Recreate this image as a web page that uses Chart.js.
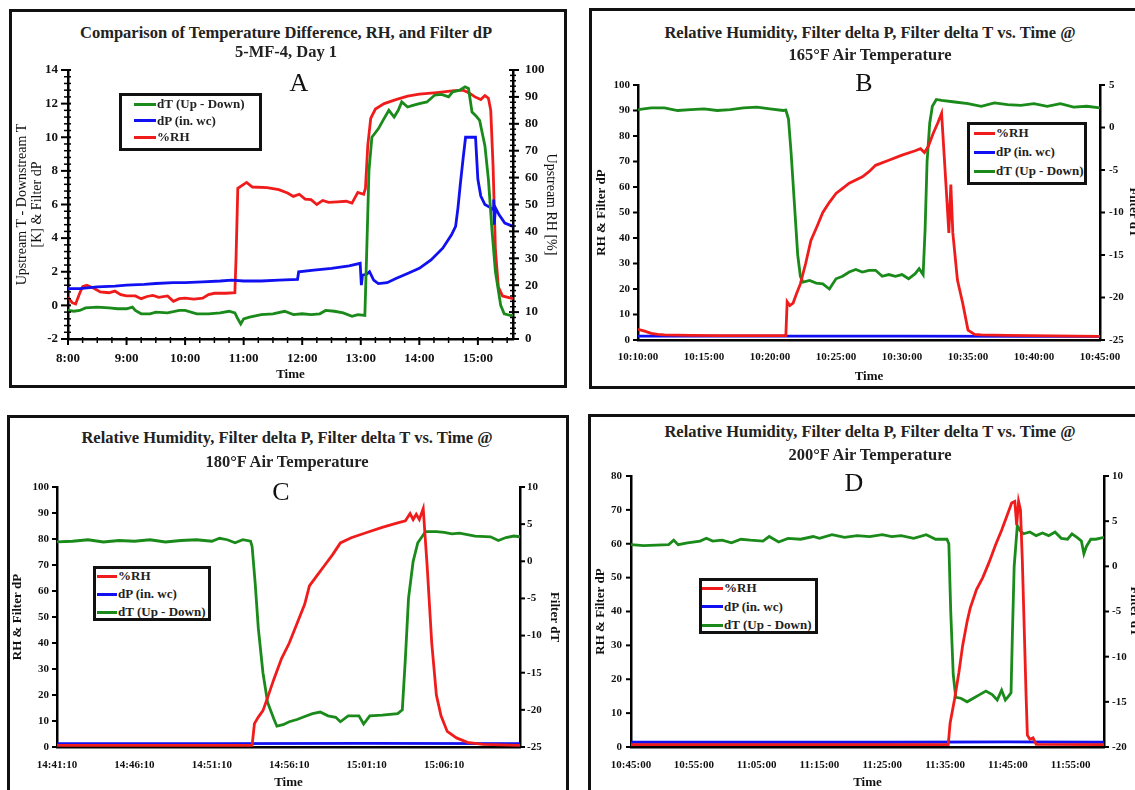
<!DOCTYPE html>
<html>
<head>
<meta charset="utf-8">
<title>RH, filter dP and dT comparison</title>
<script src="https://cdn.jsdelivr.net/npm/chart.js@4.4.1/dist/chart.umd.min.js"></script>
<style>
  html, body { margin: 0; padding: 0; background: #fff; }
  body { width: 1135px; height: 790px; overflow: hidden; position: relative;
         font-family: "Liberation Serif", "Times New Roman", serif; }
  .box { position: absolute; border: 3px solid #111; box-sizing: border-box; }
  .ttl { position: absolute; transform: translate(-50%, -50%); white-space: nowrap;
         font-weight: bold; font-size: 16.5px; line-height: 1; color: #222; }
  .letter { position: absolute; transform: translate(-50%, -50%); font-size: 26px; line-height: 1; color: #111; }
  canvas { position: absolute; }
  .legend { position: absolute; border: 3px solid #111; box-sizing: border-box; background: #fff; }
  .legend .row { position: absolute; height: 16px; display: flex; align-items: center;
                 font-weight: bold; font-size: 13px; color: #222; white-space: nowrap; }
  .legend .swatch { display: inline-block; height: 3px; margin-right: 1px; }
</style>
</head>
<body>
<div class="box" style="left:9px;top:9px;width:558px;height:379px"></div>
<div class="box" style="left:589px;top:8px;width:560px;height:381px"></div>
<div class="box" style="left:7px;top:415px;width:562px;height:400px"></div>
<div class="box" style="left:588px;top:414px;width:560px;height:400px"></div>

<script>
// ---- Panel A: 5-MF-4, Day 1 (time in hours) ----
const aDtTime = [8.00, 8.10, 8.20, 8.30, 8.50, 8.70, 8.85, 9.00, 9.10, 9.15,
  9.25, 9.40, 9.50, 9.70, 9.90, 10.00, 10.20, 10.40, 10.60, 10.75,
  10.85, 10.90, 10.95, 11.00, 11.10, 11.30, 11.50, 11.70, 11.85, 12.00,
  12.15, 12.30, 12.40, 12.55, 12.70, 12.85, 12.95, 13.07, 13.10, 13.14,
  13.19, 13.30, 13.38, 13.48, 13.57, 13.64, 13.70, 13.80, 13.89, 14.00,
  14.13, 14.26, 14.38, 14.50, 14.57, 14.69, 14.78, 14.84, 14.90, 14.96,
  15.03, 15.12, 15.18, 15.24, 15.30, 15.39, 15.45, 15.55, 15.60];
const aDtVals = [-0.3, -0.35, -0.3, -0.15, -0.1, -0.15, -0.2, -0.2, -0.1, -0.3,
  -0.5, -0.5, -0.4, -0.45, -0.3, -0.3, -0.5, -0.5, -0.45, -0.35,
  -0.45, -0.8, -1.1, -0.8, -0.7, -0.55, -0.5, -0.35, -0.55, -0.5,
  -0.55, -0.5, -0.3, -0.35, -0.45, -0.65, -0.55, -0.6, 3.0, 8.0,
  10.0, 10.5, 11.0, 11.6, 11.2, 11.6, 12.1, 11.8, 11.9, 12.0,
  12.1, 12.5, 12.55, 12.4, 12.7, 12.8, 13.0, 12.9, 11.5, 11.3,
  11.0, 9.5, 7.5, 4.5, 2.0, 0.0, -0.5, -0.6, -0.6];

const aDpTime = [8.00, 8.20, 8.50, 8.80, 9.00, 9.30, 9.50, 9.80, 10.00, 10.30,
  10.60, 10.80, 11.00, 11.30, 11.60, 11.92, 11.94, 12.20, 12.50, 12.80,
  12.99, 13.01, 13.03, 13.10, 13.15, 13.22, 13.30, 13.45, 13.60, 13.80,
  14.00, 14.20, 14.40, 14.55, 14.62, 14.66, 14.70, 14.75, 14.79, 14.96,
  15.00, 15.05, 15.12, 15.22, 15.26, 15.27, 15.28, 15.30, 15.36, 15.46, 15.60];
const aDpVals = [1.0, 1.0, 1.1, 1.15, 1.2, 1.25, 1.3, 1.35, 1.35, 1.4,
  1.45, 1.5, 1.45, 1.45, 1.5, 1.55, 2.0, 2.1, 2.2, 2.35,
  2.5, 1.2, 1.8, 1.85, 2.0, 1.5, 1.3, 1.35, 1.6, 1.9,
  2.2, 2.7, 3.4, 4.2, 4.7, 5.8, 7.2, 8.8, 10.0, 10.0,
  7.5, 6.5, 6.0, 5.8, 5.7, 6.3, 4.8, 5.8, 5.4, 4.9, 4.7];

const aRhTime = [8.00, 8.07, 8.13, 8.20, 8.25, 8.32, 8.45, 8.55, 8.70, 8.80,
  8.90, 9.00, 9.15, 9.25, 9.35, 9.45, 9.55, 9.70, 9.80, 9.90,
  10.00, 10.15, 10.30, 10.40, 10.50, 10.70, 10.85, 10.87, 10.90, 11.00,
  11.05, 11.15, 11.40, 11.60, 11.75, 11.85, 11.95, 12.05, 12.15, 12.25,
  12.35, 12.45, 12.60, 12.75, 12.85, 12.95, 13.05, 13.08, 13.12, 13.17,
  13.25, 13.40, 13.60, 13.80, 14.00, 14.30, 14.60, 14.75, 14.85, 14.95,
  15.05, 15.12, 15.18, 15.22, 15.26, 15.30, 15.35, 15.42, 15.60];
const aRhVals = [15.5, 13.5, 13.0, 17.0, 19.5, 20.0, 18.8, 17.5, 17.2, 17.8,
  16.5, 16.0, 16.0, 15.0, 15.8, 16.2, 15.5, 16.0, 14.0, 15.0,
  15.2, 14.8, 15.2, 16.5, 17.0, 17.0, 17.2, 30.0, 56.0, 57.5,
  58.2, 56.5, 56.3, 55.5, 54.3, 53.0, 53.8, 52.0, 51.8, 50.0,
  51.5, 50.8, 51.0, 51.2, 50.5, 54.5, 53.8, 56.0, 72.0, 82.0,
  85.5, 87.5, 89.0, 90.3, 91.0, 91.6, 92.3, 92.5, 91.5, 90.0,
  89.0, 90.5, 89.5, 85.0, 64.0, 33.0, 19.3, 16.0, 15.0];

// ---- Panel B: 165 F (minutes after 10:10:00) ----
const bRhTime = [0, 0.5, 1, 1.5, 2, 4, 6, 8, 11.2, 11.3,
  11.5, 11.75, 12.0, 12.3, 12.7, 13.1, 13.6, 14.0, 14.5, 15.0,
  15.5, 16, 17, 17.5, 18, 19, 20, 21, 21.4, 21.7,
  22.0, 22.36, 22.7, 23.0, 23.4, 23.55, 23.7, 23.85, 24.2, 24.6,
  25.0, 25.5, 26, 28, 35];
const bRhVals = [4.2, 3.5, 2.6, 2.2, 2.0, 1.8, 1.7, 1.7, 1.7, 15,
  13.5, 14.5, 18, 22, 30, 39, 45, 50, 54, 57.5,
  59.5, 61.5, 64, 66, 68.5, 70.5, 72.5, 74.2, 75.0, 73.5,
  76, 81, 85, 88.9, 55, 42, 61, 42, 23.5, 14.4,
  3.9, 2.2, 2.0, 1.8, 1.4];
const bDpTime = [0, 10, 20, 30, 35];
const bDpVals = [1.5, 1.5, 1.5, 1.4, 1.4];
const bDtTime = [0, 1, 2, 3, 4, 5, 6, 7, 8, 9,
  10, 11, 11.2, 11.4, 11.6, 11.85, 12.1, 12.3, 12.5, 13,
  13.5, 14, 14.5, 15, 15.5, 16, 16.5, 17, 17.5, 18,
  18.5, 19, 19.5, 20, 20.5, 21, 21.3, 21.6, 21.75, 21.9,
  22.1, 22.3, 22.6, 23, 24, 25, 26, 27, 28, 29,
  30, 31, 32, 33, 34, 35];
const bDtVals = [2.1, 2.3, 2.3, 2.0, 2.1, 2.2, 2.0, 2.1, 2.3, 2.4,
  2.2, 2.0, 2.05, 1.0, -3, -9, -15, -17.5, -18.2, -18.0,
  -18.3, -18.4, -19.0, -17.8, -17.5, -17.0, -16.7, -17.0, -16.8, -16.8,
  -17.5, -17.3, -17.5, -17.3, -17.8, -17.2, -16.6, -17.3, -12, -4,
  0.5, 2.5, 3.3, 3.2, 3.0, 2.8, 2.5, 2.9, 2.7, 2.6,
  2.8, 2.5, 2.8, 2.4, 2.5, 2.3];

// ---- Panel C: 180 F (minutes after 14:41:10) ----
const cRhTime = [0, 12.6, 12.75, 13.0, 13.3, 13.6, 14.0, 14.5, 15.0, 15.5,
  16, 16.3, 16.8, 17.3, 17.8, 18.3, 19, 20, 21, 22,
  22.5, 22.8, 23.0, 23.2, 23.4, 23.65, 23.9, 24.2, 24.5, 24.8,
  25.2, 25.8, 26.5, 27.5, 29.9];
const cRhVals = [0.6, 0.6, 9, 11.5, 14, 19, 26, 34, 40, 47.5,
  55, 62, 66, 70, 74, 78.5, 80.5, 82.5, 84.5, 86.2,
  87, 89.8, 87.5, 89.5, 87.5, 91.7, 70, 40, 20, 12,
  6, 3.5, 1.8, 1.0, 0.6];
const cDpTime = [0, 10, 20, 29.9];
const cDpVals = [1.3, 1.3, 1.4, 1.3];
const cDtTime = [0, 1, 2, 3, 4, 5, 6, 7, 8, 9,
  10, 10.5, 11, 11.5, 12, 12.5, 12.6, 12.8, 13.0, 13.3,
  13.6, 14.0, 14.2, 14.6, 15.0, 15.5, 16, 16.5, 17, 17.5,
  18, 18.3, 18.8, 19.5, 19.8, 20.2, 21, 22, 22.3, 22.5,
  22.7, 23.0, 23.3, 23.8, 24.5, 25.0, 25.5, 26, 27, 28,
  28.5, 29, 29.5, 29.9];
const cDtVals = [2.6, 2.7, 2.9, 2.6, 2.8, 2.7, 2.9, 2.6, 2.8, 2.9,
  2.7, 3.1, 2.9, 2.5, 2.9, 2.7, 2.0, -3, -9, -15,
  -19, -21.2, -22.2, -22.0, -21.6, -21.3, -20.9, -20.5, -20.3, -20.8,
  -21.0, -21.6, -20.8, -20.8, -21.9, -20.8, -20.7, -20.5, -20.0, -13,
  -5, 0, 2.5, 4.0, 4.0, 3.9, 3.7, 3.8, 3.4, 3.3,
  2.8, 3.2, 3.4, 3.3];

// ---- Panel D: 200 F (minutes after 10:45:00) ----
const dRhTime = [0, 50.5, 50.8, 51.5, 52.2, 52.8, 53.5, 54, 55, 56,
  57, 58, 59, 60, 60.6, 61.1, 61.4, 61.7, 62.0, 62.3,
  62.6, 62.9, 63.1, 63.5, 64, 64.5, 75.3];
const dRhVals = [0.7, 0.7, 7, 14, 22, 30, 37, 41, 46.5, 50,
  54.5, 59.5, 64, 69, 72, 72.5, 65.5, 72.5, 70, 55,
  35, 15, 3.5, 2.3, 2.7, 0.8, 0.7];
const dDpTime = [0, 20, 40, 60, 75.3];
const dDpVals = [1.4, 1.4, 1.4, 1.5, 1.4];
const dDtTime = [0, 2, 4, 6, 6.8, 7.5, 9, 11, 12, 13,
  14.5, 16, 17.5, 19, 21, 22, 23.5, 25, 27, 29,
  30, 32, 34, 36, 38, 40, 41.5, 43, 45, 47,
  48.5, 50.3, 50.6, 50.9, 51.3, 51.7, 52.5, 53.5, 54.5, 55.5,
  56.5, 57.5, 58.3, 59, 59.6, 60.2, 60.5, 60.7, 61.0, 61.5,
  62, 62.5, 63.5, 64.5, 65.5, 66.5, 67.5, 68.5, 69.5, 70.2,
  71, 71.7, 72.1, 72.5, 73.2, 74, 75.3];
const dDtVals = [2.4, 2.3, 2.35, 2.4, 2.9, 2.4, 2.6, 2.8, 3.1, 2.8,
  2.9, 2.6, 3.0, 2.9, 2.8, 3.3, 2.7, 3.1, 3.0, 3.3,
  3.1, 3.5, 3.2, 3.4, 3.3, 3.5, 3.3, 3.4, 3.1, 3.5,
  3.0, 3.0, 2.5, -5, -12, -14.5, -14.6, -15.0, -14.6, -14.2,
  -13.8, -14.2, -14.8, -13.7, -14.8, -14.3, -14.0, -8, 0, 4.5,
  3.9, 3.6, 3.8, 3.4, 3.7, 3.4, 3.8, 3.1, 3.0, 3.6,
  3.2, 2.8, 1.4, 2.2, 3.0, 3.0, 3.2];

const GREEN = "#1a8a1a";
const BLUE = "#1010f0";
const RED = "#f01c1c";
const TOP_PAD = 24;

Chart.defaults.font.family = "'Liberation Serif', 'Times New Roman', serif";
Chart.defaults.color = "#111";

function pts(xs, ys) {
  return xs.map((x, i) => ({ x: x, y: ys[i] }));
}

function isMajor(v, major) {
  const r = v / major;
  return Math.abs(r - Math.round(r)) < 1e-6;
}

function clock(baseSec, min) {
  const s = Math.round(baseSec + min * 60);
  const hh = Math.floor(s / 3600);
  const mm = Math.floor((s % 3600) / 60);
  const ss = s % 60;
  return hh + ":" + String(mm).padStart(2, "0") + ":" + String(ss).padStart(2, "0");
}

function line(label, color, data, yID) {
  return { label: label, data: data, borderColor: color, backgroundColor: color,
           borderWidth: 2.8, pointRadius: 0, tension: 0, yAxisID: yID };
}

// tick marks from each scale's own tick values; out = length outside, inn = length inside the plot
function drawTicks(chart, specs) {
  const ctx = chart.ctx;
  ctx.save();
  ctx.setLineDash([]);
  ctx.strokeStyle = "#000";
  ctx.lineCap = "butt";
  Object.keys(specs).forEach((id) => {
    const sp = specs[id];
    const s = chart.scales[id];
    if (!s) return;
    s.ticks.forEach((t) => {
      const major = isMajor(t.value, sp.major);
      const out = major ? sp.majorOut : sp.minorOut;
      const inn = major ? sp.majorIn : sp.minorIn;
      if (!out && !inn) return;
      const p = s.getPixelForValue(t.value);
      ctx.lineWidth = major ? 2 : 1.5;
      ctx.beginPath();
      if (s.position === "bottom") {
        ctx.moveTo(p, s.top - inn);
        ctx.lineTo(p, s.top + out);
      } else if (s.position === "left") {
        ctx.moveTo(s.right + inn, p);
        ctx.lineTo(s.right - out, p);
      } else {
        ctx.moveTo(s.left - inn, p);
        ctx.lineTo(s.left + out, p);
      }
      ctx.stroke();
    });
  });
  ctx.restore();
}

function yScale(o) {
  return {
    type: "linear", position: o.pos, min: o.min, max: o.max,
    afterFit: (s) => { s.width = o.width; },
    border: { display: true, color: "#000", width: 2.5 },
    grid: { drawOnChartArea: false, drawTicks: false },
    ticks: { stepSize: o.step, autoSkip: false, includeBounds: false, padding: o.pad,
             color: "#111", font: { size: o.font, weight: "bold" },
             callback: (v) => (isMajor(v, o.major) ? String(v) : "") },
    title: { display: true, text: o.title, color: "#111",
             padding: { top: o.titlePad, bottom: 0 },
             font: { size: o.titleSize, weight: o.titleWeight, lineHeight: "15px" } }
  };
}

function xScale(o) {
  return {
    type: "linear", position: "bottom", min: o.min, max: o.max,
    afterFit: (s) => { s.height = o.height; },
    border: { display: true, color: "#000", width: 2.5 },
    grid: { drawOnChartArea: false, drawTicks: false },
    ticks: { stepSize: o.step, autoSkip: false, includeBounds: false, maxRotation: 0, minRotation: 0,
             padding: o.pad, color: "#111", font: { size: o.font, weight: "bold" },
             callback: (v) => (isMajor(v, o.major) ? o.fmt(v) : "") },
    title: { display: true, text: "Time", color: "#111", padding: { top: 0, bottom: 0.5 },
             font: { size: 13, weight: "bold", lineHeight: "15px" } }
  };
}

function tickSpec(o) {
  return { major: o.major, majorOut: o.majorOut || 0, minorOut: o.minorOut || 0,
           majorIn: o.majorIn || 0, minorIn: o.minorIn || 0 };
}

// plot = chart area in page px, cv = outer canvas edges in page px
function makePanel(p) {
  const top = p.plot.t - TOP_PAD;
  const canvas = document.createElement("canvas");
  canvas.width = p.cv.r - p.cv.l;
  canvas.height = p.cv.b - top;
  canvas.style.left = p.cv.l + "px";
  canvas.style.top = top + "px";
  document.body.appendChild(canvas);

  p.y.width = p.plot.l - p.cv.l;
  p.y1.width = p.cv.r - p.plot.r;
  p.x.height = p.cv.b - p.plot.b;

  const specs = { x: tickSpec(p.x), y: tickSpec(p.y), y1: tickSpec(p.y1) };

  const chart = new Chart(canvas.getContext("2d"), {
    type: "line",
    data: { datasets: p.datasets },
    options: {
      responsive: false, animation: false, devicePixelRatio: 1,
      layout: { padding: { top: TOP_PAD, left: 0, right: 0, bottom: 0 }, autoPadding: false },
      plugins: { legend: { display: false }, tooltip: { enabled: false }, title: { display: false } },
      scales: { x: xScale(p.x), y: yScale(p.y), y1: yScale(p.y1) }
    },
    plugins: [{ id: "tickMarks", afterDraw: (c) => drawTicks(c, specs) }]
  });

  p.titles.forEach((t) => {
    const d = document.createElement("div");
    d.className = "ttl";
    d.style.left = p.titleX + "px";
    d.style.top = t[1] + "px";
    d.textContent = t[0];
    document.body.appendChild(d);
  });

  const L = document.createElement("div");
  L.className = "letter";
  L.style.left = p.letter[1] + "px";
  L.style.top = p.letter[2] + "px";
  L.textContent = p.letter[0];
  document.body.appendChild(L);

  // legend box built from the chart's own datasets
  const g = p.legend;
  const box = document.createElement("div");
  box.className = "legend";
  box.style.left = g.l + "px";
  box.style.top = g.t + "px";
  box.style.width = g.w + "px";
  box.style.height = g.h + "px";
  chart.data.datasets.forEach((ds, i) => {
    const row = document.createElement("div");
    row.className = "row";
    row.style.left = (g.lineX - g.l - 3) + "px";
    row.style.top = (g.row0 + i * g.gap - g.t - 3 - 8) + "px";
    const sw = document.createElement("span");
    sw.className = "swatch";
    sw.style.width = g.lineW + "px";
    sw.style.background = ds.borderColor;
    row.appendChild(sw);
    row.appendChild(document.createTextNode(ds.label));
    box.appendChild(row);
  });
  document.body.appendChild(box);
  return chart;
}

const rhTitle = "Relative Humidity, Filter delta P, Filter delta T vs. Time @";

// Panel A
makePanel({
  plot: { l: 68, r: 513, t: 70, b: 339 },
  cv: { l: 12, r: 560, b: 383 },
  datasets: [
    line("dT (Up - Down)", GREEN, pts(aDtTime, aDtVals), "y"),
    line("dP (in. wc)", BLUE, pts(aDpTime, aDpVals), "y"),
    line("%RH", RED, pts(aRhTime, aRhVals), "y1")
  ],
  x: { min: 8, max: 15.6, step: 0.25, major: 1, majorOut: 6, minorOut: 4, majorIn: 2, minorIn: 2,
       pad: 12, font: 13, fmt: (v) => Math.round(v) + ":00" },
  y: { pos: "left", min: -2, max: 14, step: 0.4, major: 2, majorOut: 7, minorOut: 4, majorIn: 3, minorIn: 3,
       pad: 10, font: 13,
       title: ["Upstream T - Downstream T", "[K] & Filter dP"], titlePad: 2.5, titleSize: 14, titleWeight: "normal" },
  y1: { pos: "right", min: 0, max: 100, step: 2, major: 10, majorOut: 6, minorOut: 3, majorIn: 4, minorIn: 3,
        pad: 12, font: 13,
        title: "Upstream RH [%]", titlePad: 1.5, titleSize: 14, titleWeight: "normal" },
  titleX: 286,
  titles: [["Comparison of Temperature Difference, RH, and Filter dP", 33], ["5-MF-4, Day 1", 52]],
  letter: ["A", 299, 83],
  legend: { l: 119, t: 93, w: 143, h: 58, lineX: 134, lineW: 22, row0: 104, gap: 16.5 }
});

// Panel B
makePanel({
  plot: { l: 638, r: 1100, t: 85, b: 340 },
  cv: { l: 594, r: 1141, b: 385 },
  datasets: [
    line("%RH", RED, pts(bRhTime, bRhVals), "y"),
    line("dP (in. wc)", BLUE, pts(bDpTime, bDpVals), "y"),
    line("dT (Up - Down)", GREEN, pts(bDtTime, bDtVals), "y1")
  ],
  x: { min: 0, max: 35, step: 5, major: 5, pad: 11, font: 11,
       fmt: (v) => clock(10 * 3600 + 10 * 60, v) },
  y: { pos: "left", min: 0, max: 100, step: 10, major: 10, majorOut: 5, pad: 8, font: 11,
       title: "RH & Filter dP", titlePad: 0.5, titleSize: 13, titleWeight: "bold" },
  y1: { pos: "right", min: -25, max: 5, step: 5, major: 5, majorOut: 5, pad: 9, font: 11,
        title: "Filter dT", titlePad: 0.5, titleSize: 13, titleWeight: "bold" },
  titleX: 870,
  titles: [[rhTitle, 33], ["165°F Air Temperature", 55]],
  letter: ["B", 864, 83],
  legend: { l: 967, t: 122, w: 120, h: 63, lineX: 974, lineW: 21, row0: 133, gap: 19 }
});

// Panel C
makePanel({
  plot: { l: 57, r: 520, t: 487, b: 747 },
  cv: { l: 10, r: 562, b: 791 },
  datasets: [
    line("%RH", RED, pts(cRhTime, cRhVals), "y"),
    line("dP (in. wc)", BLUE, pts(cDpTime, cDpVals), "y"),
    line("dT (Up - Down)", GREEN, pts(cDtTime, cDtVals), "y1")
  ],
  x: { min: 0, max: 29.9, step: 5, major: 5, pad: 12, font: 11,
       fmt: (v) => clock(14 * 3600 + 41 * 60 + 10, v) },
  y: { pos: "left", min: 0, max: 100, step: 10, major: 10, majorOut: 5, pad: 8, font: 11,
       title: "RH & Filter dP", titlePad: 0.5, titleSize: 13, titleWeight: "bold" },
  y1: { pos: "right", min: -25, max: 10, step: 5, major: 5, majorOut: 5, pad: 7, font: 11,
        title: "Filter dT", titlePad: 0.5, titleSize: 13, titleWeight: "bold" },
  titleX: 287,
  titles: [[rhTitle, 438], ["180°F Air Temperature", 462]],
  letter: ["C", 281, 492],
  legend: { l: 93, t: 566, w: 118, h: 55, lineX: 97, lineW: 20, row0: 576, gap: 18 }
});

// Panel D
makePanel({
  plot: { l: 631, r: 1104, t: 476, b: 747 },
  cv: { l: 593, r: 1142, b: 791 },
  datasets: [
    line("%RH", RED, pts(dRhTime, dRhVals), "y"),
    line("dP (in. wc)", BLUE, pts(dDpTime, dDpVals), "y"),
    line("dT (Up - Down)", GREEN, pts(dDtTime, dDtVals), "y1")
  ],
  x: { min: 0, max: 75.3, step: 10, major: 10, pad: 12, font: 11,
       fmt: (v) => clock(10 * 3600 + 45 * 60, v) },
  y: { pos: "left", min: 0, max: 80, step: 10, major: 10, majorOut: 5, pad: 9, font: 11,
       title: "RH & Filter dP", titlePad: 0.5, titleSize: 13, titleWeight: "bold" },
  y1: { pos: "right", min: -20, max: 10, step: 5, major: 5, majorOut: 5, pad: 8, font: 11,
        title: "Filter dT", titlePad: 0.5, titleSize: 13, titleWeight: "bold" },
  titleX: 870,
  titles: [[rhTitle, 432], ["200°F Air Temperature", 455]],
  letter: ["D", 854, 483],
  legend: { l: 699, t: 578, w: 119, h: 56, lineX: 702, lineW: 21, row0: 588, gap: 18.5 }
});
</script>
</body>
</html>
